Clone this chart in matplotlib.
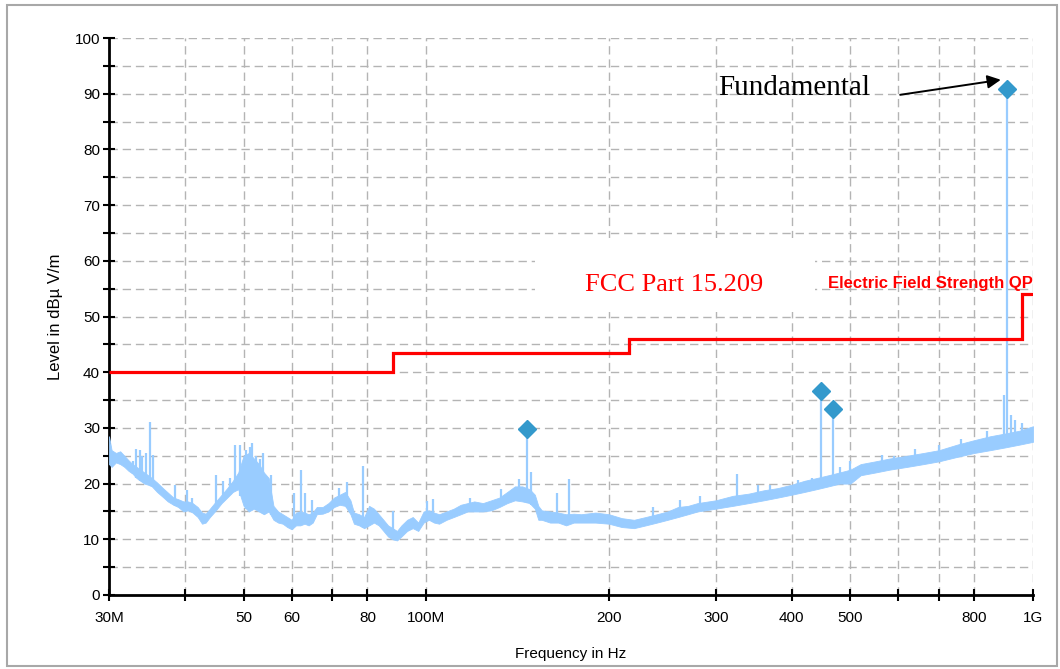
import numpy as np
import matplotlib.pyplot as plt
from matplotlib.patches import Rectangle

# radiated emission scan, noise floor envelope (MHz, dBuV/m)
scan_freq = [30.0, 30.3, 30.8, 31.3, 31.8, 32.3, 32.8, 33.3, 33.8, 34.3,
             34.8, 35.3, 36.0, 36.8, 37.5, 38.3, 39.0, 39.8, 40.5, 41.2,
             42.0, 42.7, 43.3, 44.0, 45.0, 46.0, 47.0, 48.0, 49.0, 50.0,
             51.0, 52.0, 53.0, 54.0, 55.0, 56.0, 57.0, 58.0, 59.0, 60.0,
             61.0, 62.0, 63.0, 64.0, 65.0, 66.0, 67.5, 69.0, 70.5, 72.0,
             73.5, 75.0, 76.0, 77.5, 79.0, 80.5, 82.0, 83.5, 85.0, 86.5,
             88.0, 89.5, 91.0, 93.0, 95.0, 97.0, 99.0, 101.0, 103.0, 105.0,
             108.0, 111.0, 114.0, 117.0, 120.0, 124.0, 128.0, 132.0, 136.0, 140.0,
             144.0, 148.0, 151.0, 153.0, 155.0, 160.0, 165.0, 170.0, 175.0, 180.0,
             190.0, 200.0, 210.0, 220.0, 230.0, 240.0, 250.0, 260.0, 270.0, 280.0,
             300.0, 320.0, 340.0, 360.0, 380.0, 400.0, 420.0, 440.0, 460.0, 480.0,
             500.0, 520.0, 550.0, 580.0, 620.0, 660.0, 700.0, 750.0, 800.0, 850.0,
             900.0, 950.0, 1000.0]
scan_low = [23.5, 23.0, 23.8, 23.5, 23.0, 22.3, 21.8, 21.0, 20.5, 20.0,
            19.8, 19.5, 18.5, 17.6, 16.8, 16.2, 15.8, 15.0, 15.2, 14.8,
            14.0, 12.8, 13.0, 14.0, 15.2, 16.5, 17.5, 18.5, 19.0, 16.0,
            15.0, 15.5, 15.0, 14.5, 15.0, 13.5, 13.0, 12.8, 12.2, 11.8,
            12.5, 12.5, 12.8, 12.5, 13.0, 14.5, 14.6, 15.0, 15.8, 16.2,
            16.0, 14.5, 12.8, 12.5, 12.0, 12.5, 13.0, 12.5, 11.5, 10.5,
            10.0, 9.8, 10.5, 11.5, 12.0, 11.5, 13.0, 13.5, 13.0, 12.8,
            13.5, 14.0, 14.5, 15.0, 15.0, 15.0, 15.2, 15.8, 16.5, 17.0,
            16.8, 16.5, 15.5, 13.5, 13.5, 13.0, 13.0, 12.5, 13.0, 13.0,
            13.0, 12.8, 12.2, 12.0, 12.5, 13.0, 13.5, 14.0, 14.5, 15.0,
            15.5, 16.0, 16.5, 17.0, 17.5, 18.0, 18.5, 19.0, 19.5, 20.0,
            20.0, 21.5, 22.0, 22.5, 23.0, 23.5, 24.0, 24.8, 25.5, 26.0,
            26.5, 27.0, 27.5]
scan_high = [28.5, 26.0, 25.5, 25.8, 25.0, 24.2, 23.5, 23.0, 22.5, 22.0,
             21.5, 21.0, 20.2, 19.2, 18.4, 17.5, 17.2, 16.8, 16.8, 16.5,
             15.8, 14.8, 14.6, 15.5, 16.8, 18.0, 19.2, 20.5, 22.0, 25.0,
             25.5, 24.5, 23.5, 22.0, 21.0, 16.0, 15.0, 14.5, 14.0, 13.5,
             14.8, 15.0, 14.8, 14.5, 14.8, 15.8, 15.8, 16.5, 17.5, 18.0,
             18.5, 17.0, 14.8, 14.5, 14.0, 16.0, 15.5, 14.5, 13.5, 12.5,
             12.0, 11.5, 12.5, 13.5, 14.0, 13.0, 15.0, 15.2, 14.8, 14.5,
             15.0, 15.5, 16.2, 16.5, 16.8, 16.5, 17.0, 17.5, 18.5, 19.5,
             19.5, 19.0, 18.0, 16.0, 15.2, 15.0, 14.8, 14.5, 14.6, 14.5,
             14.8, 14.5, 13.8, 13.5, 14.0, 14.5, 15.0, 15.8, 16.0, 16.5,
             17.0, 17.8, 18.2, 18.8, 19.2, 19.8, 20.5, 21.0, 21.5, 22.0,
             22.5, 23.5, 24.0, 24.5, 25.0, 25.5, 26.0, 27.0, 27.8, 28.5,
             29.0, 29.5, 30.3]

# narrow spurs above the floor
spur_freq = [31.5, 32.8, 33.3, 33.8, 34.0, 34.5, 35.0, 35.4, 38.6, 40.3,
             41.1, 45.1, 46.3, 47.5, 48.4, 49.4, 50.5, 51.2, 51.7, 52.5,
             53.3, 53.9, 55.4, 60.6, 62.1, 63.2, 64.9, 71.8, 73.9, 78.7,
             88.1, 100.3, 102.5, 118.0, 133.0, 142.0, 149.0, 164.3, 172.0, 236.0,
             262.0, 283.0, 325.6, 352.0, 369.0, 410.0, 423.0, 432.0, 480.0, 500.0,
             563.0, 590.0, 640.0, 700.0, 760.0, 840.0, 897.0, 919.5, 935.0, 960.0]
spur_peak = [25.2, 24.0, 26.3, 26.0, 25.0, 25.5, 31.0, 25.2, 19.8, 18.8,
             17.5, 21.5, 20.5, 21.0, 27.0, 27.0, 26.0, 26.5, 27.3, 25.0,
             24.5, 25.5, 21.5, 18.3, 22.5, 18.3, 17.0, 19.2, 20.3, 23.2,
             15.0, 16.8, 17.2, 17.5, 19.0, 20.8, 22.0, 18.3, 20.8, 15.8,
             17.0, 17.8, 21.8, 19.7, 19.8, 20.6, 20.5, 21.0, 23.0, 24.0,
             25.1, 25.0, 26.3, 27.0, 28.0, 29.5, 35.9, 32.3, 31.5, 30.8]

# final measurement peaks
peak_freq = [146.7, 447.6, 467.5, 906.6]
peak_level = [29.8, 36.7, 33.4, 90.8]

# FCC 15.209 quasi-peak limit
limit_edges = [30, 88, 216, 960, 1000]
limit_level = [40, 43.5, 46, 54]

xtick_vals = [30, 40, 50, 60, 70, 80, 100, 200, 300, 400, 500, 600, 700, 800, 1000]
xtick_text = ['30M', '', '50', '60', '', '80', '100M', '200', '300', '400', '500',
              '', '', '800', '1G']

trace_color = '#99ccff'
peak_color = '#3399cc'

fig = plt.figure(figsize=(10.6, 6.69), dpi=100)
ax = fig.add_axes([109 / 1060, 74 / 669, 924 / 1060, 557 / 669])
ax.set_xscale('log')
ax.set_xlim(30, 1000)
ax.set_ylim(0, 100)

def floor_at(f):
    return np.interp(np.log10(f), np.log10(scan_freq), scan_low)

ax.fill_between(scan_freq, scan_low, scan_high, color=trace_color,
                lw=0.6, zorder=3)
ax.vlines(spur_freq, [floor_at(f) for f in spur_freq], spur_peak,
          color=trace_color, lw=1.6, zorder=3)
ax.vlines(peak_freq, [floor_at(f) for f in peak_freq], peak_level,
          color=trace_color, lw=1.6, zorder=3)
ax.plot(peak_freq, peak_level, 'D', color=peak_color, ms=9, mec=peak_color,
        zorder=5)

ax.stairs(limit_level, limit_edges, baseline=None, color='red', lw=2.3,
          zorder=4)

# blank patch behind the limit name
ax.add_patch(Rectangle((151, 50.8), 437 - 151, 13.3, facecolor='white',
                       edgecolor='none', zorder=1.5))

ax.text(182.7, 55.6, 'FCC Part 15.209', color='red', fontsize=19,
        family='Liberation Serif', va='center', ha='left', zorder=6)
ax.text(1000, 56.0, 'Electric Field Strength QP', color='red', fontsize=12,
        fontweight='bold', family='Liberation Sans', va='center', ha='right',
        zorder=6)

ax.annotate('', xy=(885, 92.5), xytext=(604, 89.8),
            arrowprops=dict(arrowstyle='-|>', color='black', lw=1.4,
                            mutation_scale=20, shrinkA=0, shrinkB=0),
            zorder=6)
ax.text(302.6, 91.0, 'Fundamental', fontsize=21, family='Liberation Serif',
        va='center', ha='left', zorder=6)

ax.set_xticks(xtick_vals)
ax.set_xticklabels(xtick_text)
ax.xaxis.set_minor_locator(plt.NullLocator())
ax.set_yticks(np.arange(0, 101, 10))
ax.set_yticks(np.arange(5, 100, 10), minor=True)

for lab in ax.get_xticklabels() + ax.get_yticklabels():
    lab.set_family('Liberation Sans')
    lab.set_fontsize(11)
ax.tick_params(which='both', direction='inout', length=9, width=1.5,
               colors='black')
ax.tick_params(axis='x', pad=7)
ax.tick_params(axis='y', pad=2)

ax.grid(True, which='major', axis='x', color='#b4b4b4', lw=1,
        linestyle=(0, (6, 3.5)))
ax.grid(True, which='both', axis='y', color='#b4b4b4', lw=1,
        linestyle=(0, (6, 3.5)))
ax.set_axisbelow(True)

for side in ('top', 'right'):
    ax.spines[side].set_visible(False)
for side in ('left', 'bottom'):
    ax.spines[side].set_linewidth(2)

ax.set_xlabel('Frequency in Hz', fontsize=11, family='Liberation Sans',
              labelpad=16)
ax.set_ylabel('Level in dBµ V/m', fontsize=12, family='Liberation Sans',
              labelpad=8)

fig.patches.append(Rectangle((7 / 1060, 3 / 669), 1050 / 1060, 661 / 669,
                             transform=fig.transFigure, fill=False,
                             edgecolor='#a8a8a8', lw=1.5))

fig.savefig('out.png', dpi=100)
